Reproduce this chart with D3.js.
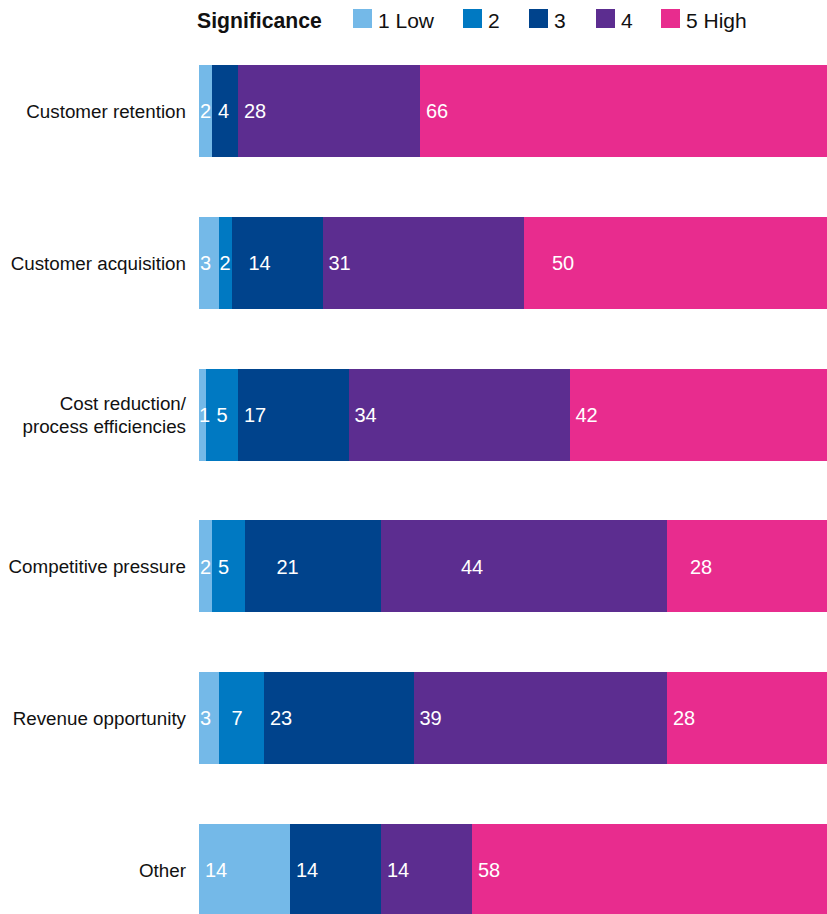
<!DOCTYPE html>
<html>
<head>
<meta charset="utf-8">
<script src="https://cdn.jsdelivr.net/npm/d3@7"></script>
<style>
  html, body { margin: 0; padding: 0; background: #fff; }
  svg { display: block; overflow: hidden; }
  text { font-family: "Liberation Sans", Arial, Helvetica, sans-serif; }
</style>
</head>
<body>
<svg id="chart" width="827" height="914"></svg>
<script>
// ---- data ----
const categories = [
  "Customer retention",
  "Customer acquisition",
  "Cost reduction/\nprocess efficiencies",
  "Competitive pressure",
  "Revenue opportunity",
  "Other"
];
const seriesNames = ["1 Low", "2", "3", "4", "5 High"];
const s1Low  = [2, 3, 1, 2, 3, 14];
const s2     = [0, 2, 5, 5, 7, 0];
const s3     = [4, 14, 17, 21, 23, 14];
const s4     = [28, 31, 34, 44, 39, 14];
const s5High = [66, 50, 42, 28, 28, 58];
const legendTitle = "Significance";

// ---- style / layout ----
const colors = ["#74b9e8", "#0079c2", "#00438c", "#5c2d90", "#e82c8e"];
// extra horizontal nudges (px) for a few value labels, keyed "row|series"
const labelNudge = {"1|2": 11, "1|4": 22, "3|2": 26, "3|3": 74, "3|4": 17, "2|1": 5, "4|1": 7, "2|0": -1};

const svg = d3.select("#chart");
const seriesVals = [s1Low, s2, s3, s4, s5High];

const x = d3.scaleLinear().domain([0, 100]).range([199, 849]);
const y = d3.scaleBand().domain(categories).range([35, 946])
  .paddingInner(0.394).paddingOuter(0.197);

const rows = categories.map((c, i) => {
  let acc = 0;
  return seriesVals.map((arr, k) => {
    const seg = {row: i, k, cat: c, v: arr[i], x0: acc, x1: acc + arr[i]};
    acc += arr[i];
    return seg;
  });
});

const g = svg.append("g");
const rowG = g.selectAll("g.row").data(rows).join("g").attr("class", "row");

rowG.selectAll("rect").data(d => d.filter(s => s.v > 0)).join("rect")
  .attr("x", d => Math.round(x(d.x0)))
  .attr("y", d => Math.round(y(d.cat)))
  .attr("width", d => Math.round(x(d.x1)) - Math.round(x(d.x0)))
  .attr("height", Math.round(y.bandwidth()))
  .attr("shape-rendering", "crispEdges")
  .attr("fill", d => colors[d.k]);

rowG.selectAll("text.val").data(d => d.filter(s => s.v > 0)).join("text")
  .attr("class", "val")
  .attr("x", d => {
    const w = x(d.x1) - x(d.x0);
    const pad = w < 22 ? 1 : 6;
    return x(d.x0) + pad + (labelNudge[d.row + "|" + d.k] || 0);
  })
  .attr("y", d => y(d.cat) + y.bandwidth() / 2)
  .attr("dy", "0.36em")
  .attr("fill", "#fff")
  .attr("font-size", "20px")
  .text(d => d.v);

// category labels
const catG = svg.append("g");
categories.forEach(c => {
  const lines = c.split("\n");
  const cy = y(c) + y.bandwidth() / 2;
  const lh = 23;
  const t = catG.append("text")
    .attr("x", 186)
    .attr("text-anchor", "end")
    .attr("font-size", "18.8px")
    .attr("fill", "#111");
  lines.forEach((ln, j) => {
    t.append("tspan")
      .attr("x", 186)
      .attr("y", cy + (j - (lines.length - 1) / 2) * lh)
      .attr("dy", "0.36em")
      .text(ln);
  });
});

// legend
const leg = svg.append("g");
leg.append("text").attr("x", 197).attr("y", 27.5)
  .attr("font-size", "21.2px").attr("font-weight", "bold").attr("fill", "#111")
  .text(legendTitle);
const legX = [353, 463, 529, 596, 661];
seriesNames.forEach((n, k) => {
  leg.append("rect").attr("x", legX[k]).attr("y", 9).attr("width", 19).attr("height", 19)
    .attr("fill", colors[k]);
  leg.append("text").attr("x", legX[k] + 25).attr("y", 27.5)
    .attr("font-size", "21px").attr("fill", "#111").text(n);
});
</script>
</body>
</html>
